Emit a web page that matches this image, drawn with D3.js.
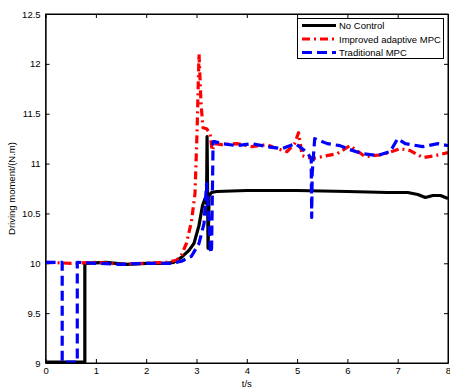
<!DOCTYPE html>
<html><head><meta charset="utf-8">
<script src="https://cdn.jsdelivr.net/npm/d3@7"></script>
<style>body{margin:0;background:#fff}svg{display:block}text{font-family:"Liberation Sans",Arial,sans-serif}</style>
</head><body><svg id="c" width="450" height="389"></svg>
<script>
const xTicks=[0,1,2,3,4,5,6,7,8];
const yTicks=[9,9.5,10,10.5,11,11.5,12,12.5];
const seriesNames=["No Control","Improved adaptive MPC","Traditional MPC"];
const blackT=[0,0.78,0.78,1.2,1.6,2.0,2.4,2.55,2.7,2.85,2.95,3.05,3.12,3.17,3.2,3.21,3.23,3.25,3.3,3.4,4,5,6,6.8,7.2,7.4,7.55,7.7,7.85,8];
const blackV=[9.01,9.01,10,10.01,9.99,10,10,10.01,10.06,10.13,10.2,10.38,10.58,10.65,10.6,11.27,10.15,10.68,10.71,10.72,10.73,10.73,10.72,10.71,10.71,10.69,10.66,10.68,10.68,10.65];
const redT=[0,0.5,1,1.5,2,2.4,2.6,2.7,2.8,2.9,2.97,3.01,3.05,3.09,3.13,3.2,3.27,3.31,3.36,3.5,3.8,4.1,4.4,4.6,4.8,4.95,5.03,5.1,5.3,5.5,5.8,6.05,6.35,6.7,7.05,7.25,7.5,7.75,8];
const redV=[10.01,10,10.01,9.99,10,10.01,10.03,10.08,10.2,10.42,10.7,11.3,12.1,11.6,11.36,11.35,11.3,11.13,11.2,11.19,11.2,11.17,11.19,11.15,11.12,11.2,11.31,11.08,11.05,11.07,11.1,11.18,11.07,11.09,11.15,11.13,11.06,11.08,11.11];
const blueT=[0,0.33,0.33,0.63,0.63,1,1.5,2,2.5,2.7,2.9,3.05,3.15,3.2,3.24,3.28,3.3,3.33,3.36,3.5,3.8,4.1,4.4,4.7,4.97,5.2,5.28,5.29,5.3,5.35,5.6,5.85,6.05,6.3,6.6,6.85,7.0,7.15,7.5,7.8,8];
const blueV=[10.01,10.01,9.01,9.01,10.01,10,9.99,10,10,10.02,10.07,10.2,10.4,10.8,10.5,10.1,10.15,11.22,11.22,11.2,11.18,11.2,11.17,11.15,11.2,11.11,11.05,10.46,10.9,11.25,11.2,11.18,11.14,11.1,11.08,11.12,11.25,11.2,11.17,11.2,11.18];

const svg=d3.select("#c");
const L=45.6,R=448,T=14,B=363;
const x=d3.scaleLinear().domain([0,8]).range([L,R]);
const y=d3.scaleLinear().domain([9,12.5]).range([B,T]);

svg.append("defs").append("clipPath").attr("id","cp").append("rect").attr("x",L).attr("y",T-2).attr("width",R-L).attr("height",B-T+2);

const ax=d3.axisBottom(x).tickValues(xTicks).tickFormat(d3.format("d")).tickSizeInner(-4).tickSizeOuter(0).tickPadding(4);
svg.append("g").attr("transform",`translate(0,${B})`).call(ax);
const axT=d3.axisTop(x).tickValues(xTicks).tickFormat("").tickSizeInner(-4).tickSizeOuter(0);
svg.append("g").attr("transform",`translate(0,${T})`).call(axT);
const ay=d3.axisLeft(y).tickValues(yTicks).tickFormat(d=>String(d)).tickSizeInner(-4).tickSizeOuter(0).tickPadding(5);
svg.append("g").attr("transform",`translate(${L},0)`).call(ay);
const ayR=d3.axisRight(y).tickValues(yTicks).tickFormat("").tickSizeInner(-4).tickSizeOuter(0);
svg.append("g").attr("transform",`translate(${R},0)`).call(ayR);
svg.selectAll(".domain").attr("stroke","#000").attr("stroke-width",1);
svg.selectAll(".tick line").attr("stroke","#000");
svg.selectAll(".tick text").attr("font-size",9.5).attr("fill","#000").attr("font-family","'Liberation Sans',Arial,sans-serif");

const line=d3.line().x(d=>x(d[0])).y(d=>y(d[1]));
const plot=svg.append("g").attr("clip-path","url(#cp)");
const styles=[
 {t:blackT,v:blackV,c:"#000",dash:null},
 {t:redT,v:redV,c:"#ff0000",dash:"8,4,2,4"},
 {t:blueT,v:blueV,c:"#0000ff",dash:"10,5"}
];
styles.forEach(s=>{
  plot.append("path").datum(s.t.map((t,i)=>[t,s.v[i]])).attr("d",line)
   .attr("fill","none").attr("stroke",s.c).attr("stroke-width",3.2)
   .attr("stroke-dasharray",s.dash).attr("stroke-linejoin","round");
});

svg.append("rect").attr("x",L).attr("y",T).attr("width",R-L).attr("height",B-T).attr("fill","none").attr("stroke","#000");

const lg=svg.append("g");
lg.append("rect").attr("x",297.5).attr("y",18.5).attr("width",146).attr("height",40).attr("fill","#fff").attr("stroke","#000");
styles.forEach((s,i)=>{
  const yy=25.5+i*13.5;
  lg.append("line").attr("x1",302).attr("x2",336).attr("y1",yy).attr("y2",yy)
    .attr("stroke",s.c).attr("stroke-width",3.2).attr("stroke-dasharray",s.dash);
  lg.append("text").attr("x",339).attr("y",yy+3.5).attr("font-size",9.5).text(seriesNames[i]);
});

svg.append("text").attr("x",(L+R)/2).attr("y",387).attr("text-anchor","middle").attr("font-size",9.5).text("t/s");
svg.append("text").attr("transform",`translate(15,${(T+B)/2}) rotate(-90)`).attr("text-anchor","middle").attr("font-size",9.5).text("Driving moment/(N.m)");
</script></body></html>
